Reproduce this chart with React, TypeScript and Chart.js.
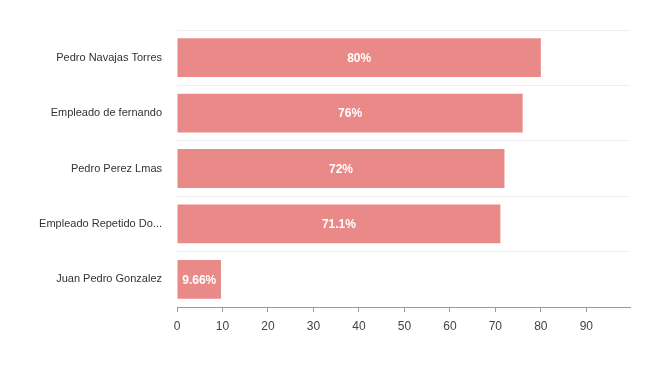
import React, { useEffect, useRef } from "react";
import { Chart, registerables } from "chart.js";

Chart.register(...registerables);

const categories = [
  "Pedro Navajas Torres",
  "Empleado de fernando",
  "Pedro Perez Lmas",
  "Empleado Repetido Do...",
  "Juan Pedro Gonzalez",
];
const values = [80, 76, 72, 71.1, 9.66];
const valueLabels = ["80%", "76%", "72%", "71.1%", "9.66%"];

const barLabelPlugin = {
  id: "barLabels",
  afterDatasetsDraw(chart: any) {
    const ctx = chart.ctx;
    const meta = chart.getDatasetMeta(0);
    ctx.save();
    ctx.fillStyle = "#ffffff";
    ctx.font = "bold 12px Arial, 'Liberation Sans', sans-serif";
    ctx.textAlign = "center";
    ctx.textBaseline = "middle";
    meta.data.forEach((bar: any, i: number) => {
      const x = (bar.x + bar.base) / 2;
      ctx.fillText(valueLabels[i], x, bar.y + 1);
    });
    ctx.restore();
  },
};

export default function App() {
  const ref = useRef<HTMLCanvasElement>(null);
  useEffect(() => {
    const chart = new Chart(ref.current!, {
      type: "bar",
      data: {
        labels: categories,
        datasets: [
          {
            data: values,
            backgroundColor: "#e98a88",
            borderWidth: 0,
            barPercentage: 0.7,
            categoryPercentage: 1,
          },
        ],
      },
      plugins: [barLabelPlugin],
      options: {
        indexAxis: "y",
        animation: false,
        responsive: false,
        maintainAspectRatio: false,
        layout: { padding: { top: 22, right: 8, bottom: 20, left: 0 } },
        plugins: { legend: { display: false }, tooltip: { enabled: false } },
        scales: {
          x: {
            min: 0,
            max: 99.6,
            afterBuildTicks: (scale: any) => {
              scale.ticks = scale.ticks.filter((t: any) => t.value % 10 === 0);
            },
            afterFit: (scale: any) => {
              scale.height = 30;
            },
            ticks: {
              stepSize: 10,
              color: "#444",
              padding: 7,
              font: { size: 12, family: "Arial, 'Liberation Sans', sans-serif" },
            },
            grid: {
              drawOnChartArea: false,
              drawTicks: true,
              tickLength: 5,
              color: "#999",
            },
            border: { display: true, color: "#999" },
          },
          y: {
            afterFit: (scale: any) => {
              scale.width = 169;
            },
            ticks: {
              color: "#333",
              padding: 15,
              font: { size: 11, family: "Arial, 'Liberation Sans', sans-serif" },
            },
            grid: {
              drawTicks: false,
              color: "#efefef",
              offset: true,
            },
            border: { display: false },
          },
        },
      },
    });
    return () => chart.destroy();
  }, []);
  return (
    <div style={{ width: 630, height: 349 }}>
      <canvas ref={ref} width={630} height={349} />
    </div>
  );
}
